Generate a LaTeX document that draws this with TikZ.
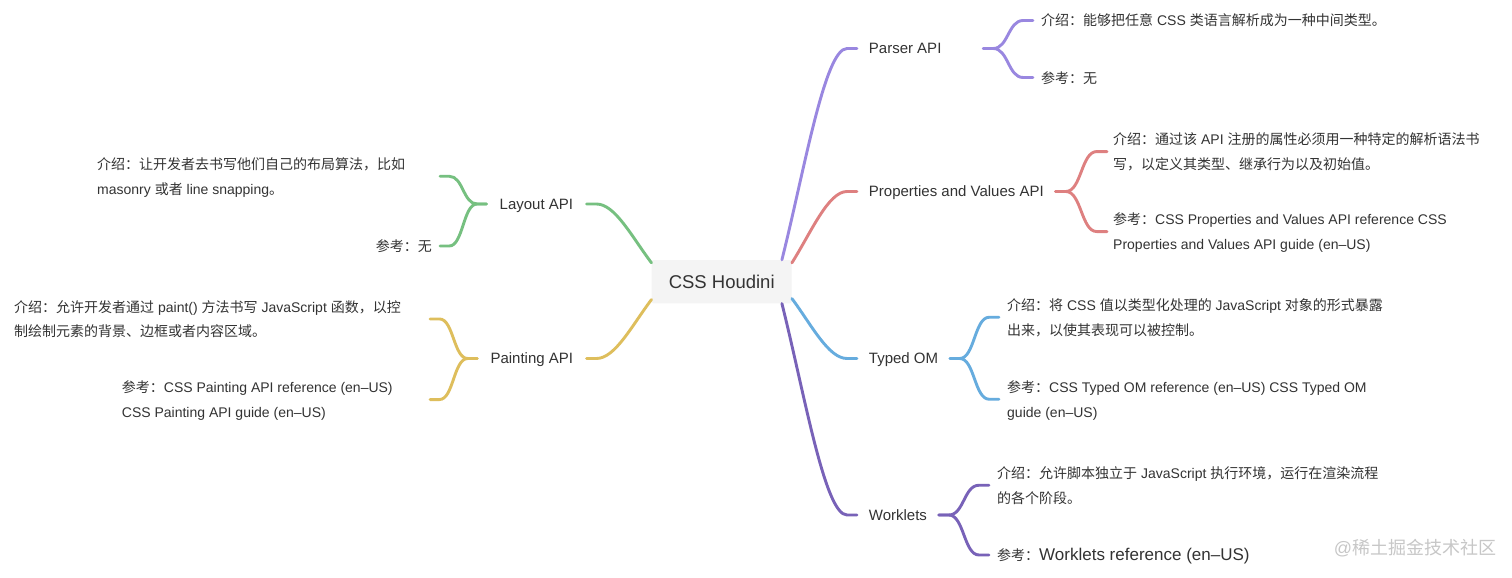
\documentclass[tikz,border=0pt]{standalone}
\usepackage{fontspec}
\setmainfont{Liberation Sans}
\newfontfamily\zhfont{Noto Sans CJK SC}
\newcommand\cj[1]{{\zhfont #1}}
\newcommand\lstrut{\rule{0pt}{13pt}}
\usetikzlibrary{calc}
\definecolor{txt}{HTML}{333333}
\definecolor{rootfill}{HTML}{F4F4F4}
\definecolor{parc}{RGB}{153,135,224}
\definecolor{propc}{RGB}{222,128,128}
\definecolor{typc}{RGB}{102,172,222}
\definecolor{workc}{RGB}{120,98,184}
\definecolor{layc}{RGB}{118,192,128}
\definecolor{paic}{RGB}{222,190,92}
\tikzset{
  rootbox/.style={fill=rootfill, rounded corners=2pt, minimum width=140pt, minimum height=43.3pt,
    inner sep=0pt, text height=13.3pt, text depth=0pt, text=txt, font=\fontsize{18.5}{22}\selectfont},
  rlabel/.style={anchor=west, inner xsep=11.7pt, inner ysep=0pt, text height=10.8pt, text depth=0pt,
    text=txt, font=\fontsize{15}{18}\selectfont},
  llabel/.style={anchor=east, inner xsep=13.2pt, inner ysep=0pt, text height=10.8pt, text depth=0pt,
    text=txt, font=\fontsize{15}{18}\selectfont},
  leaf/.style={anchor=north west, inner sep=0pt, align=left, text=txt, font=\fontsize{14}{24.5}\selectfont},
  link/.style={line width=2.9pt, line cap=round},
  branch/.style={to path={let \p1=(\tikztostart), \p2=(\tikztotarget) in
     .. controls ({\x1+0.35*(\x2-\x1)},{\y1+0.43*(\y2-\y1)}) and ({\x1+0.66*(\x2-\x1)},\y2) .. (\p2)}},
  brace/.style={to path={let \p1=(\tikztostart), \p2=(\tikztotarget), \n1={(\x2-\x1)/5} in
     -- ({\x1+\n1},\y1) .. controls ({\x1+2.5*\n1},\y1) and ({\x1+2.5*\n1},\y2) .. ({\x2-\n1},\y2) -- (\p2)}},
  wm/.style={text=black!22, font=\fontsize{18}{22}\selectfont, inner sep=0pt}
}
\begin{document}
\begin{tikzpicture}[x=1pt,y=-1pt]
\fill[white] (0,0) rectangle (1512,578);
\useasboundingbox (0,0) rectangle (1512,578);

% center
\node[rootbox] (root) at (721.7,281.7) {CSS Houdini};

% branch labels
\node[rlabel] (parser) at (857,48.5) {Parser API};
\node[rlabel] (props) at (857,191.5) {Properties and Values API};
\node[rlabel] (typed) at (857,358.5) {Typed OM};
\node[rlabel] (work) at (857,515) {Worklets};
\node[llabel] (layout) at (586.5,204) {Layout API};
\node[llabel] (paint) at (586.5,358.5) {Painting API};

% leaves (right)
\node[leaf] (pIntro) at (1041,12.8) {\lstrut\cj{介绍：能够把任意} CSS \cj{类语言解析成为一种中间类型。}};
\node[leaf] (pRef) at (1041,69.8) {\lstrut\cj{参考：无}};
\node[leaf] (vIntro) at (1113,131.6) {\lstrut\cj{介绍：通过该} API \cj{注册的属性必须用一种特定的解析语法书}\\\cj{写，以定义其类型、继承行为以及初始值。}};
\node[leaf] (vRef) at (1113,211.6) {\lstrut\cj{参考：}CSS Properties and Values API reference CSS\\Properties and Values API guide (en–US)};
\node[leaf] (tIntro) at (1007,297.3) {\lstrut\cj{介绍：将} CSS \cj{值以类型化处理的} JavaScript \cj{对象的形式暴露}\\\cj{出来，以使其表现可以被控制。}};
\node[leaf] (tRef) at (1007,379.3) {\lstrut\cj{参考：}CSS Typed OM reference (en–US) CSS Typed OM\\guide (en–US)};
\node[leaf] (wIntro) at (997,465.3) {\lstrut\cj{介绍：允许脚本独立于} JavaScript \cj{执行环境，运行在渲染流程}\\\cj{的各个阶段。}};
\node[leaf] (wRef) at (997,547.3) {\lstrut\cj{参考：}{\fontsize{17}{24.5}\selectfont Worklets reference (en–US)}};

% leaves (left)
\node[leaf] (lIntro) at (97,156.3) {\lstrut\cj{介绍：让开发者去书写他们自己的布局算法，比如}\\masonry \cj{或者} line snapping\cj{。}};
\node[leaf, anchor=north east] (lRef) at (432,238.3) {\lstrut\cj{参考：无}};
\node[leaf] (paIntro) at (14,299) {\lstrut\cj{介绍：允许开发者通过} paint() \cj{方法书写} JavaScript \cj{函数，以控}\\\cj{制绘制元素的背景、边框或者内容区域。}};
\node[leaf] (paRef) at (121.7,379.6) {\lstrut\cj{参考：}CSS Painting API reference (en–US)\\CSS Painting API guide (en–US)};

% watermark
\node[wm] (mark) at (1415,548) {@\cj{稀土掘金技术社区}};

% connector end points
\coordinate (rPar) at ([xshift=-10pt]root.north east);
\coordinate (rProp) at ([shift={(0,3)}]root.north east);
\coordinate (rTyp) at ([shift={(0,-5)}]root.south east);
\coordinate (rWork) at ([xshift=-10pt]root.south east);
\coordinate (rLay) at ([shift={(0,3)}]root.north west);
\coordinate (rPai) at ([shift={(0,-4)}]root.south west);
\coordinate (aPar) at ([xshift=-10pt]parser.west);
\coordinate (aProp) at ([xshift=-10pt]props.west);
\coordinate (aTyp) at ([xshift=-10pt]typed.west);
\coordinate (aWork) at ([xshift=-10pt]work.west);
\coordinate (aLay) at ([xshift=10pt]layout.east);
\coordinate (aPai) at ([xshift=10pt]paint.east);

\coordinate (bPar) at ([xshift=30pt]parser.east);
\coordinate (bProp) at (props.east);
\coordinate (bTyp) at (typed.east);
\coordinate (bWork) at (work.east);
\coordinate (bLay) at (layout.west);
\coordinate (bPai) at (paint.west);

\coordinate (tpI) at ([shift={(-8,7.7)}]pIntro.north west);
\coordinate (tpR) at ([shift={(-8,7.7)}]pRef.north west);
\coordinate (tvI) at ([shift={(-6,19.95)}]vIntro.north west);
\coordinate (tvR) at ([shift={(-6,19.95)}]vRef.north west);
\coordinate (ttI) at ([shift={(-8,19.95)}]tIntro.north west);
\coordinate (ttR) at ([shift={(-8,19.95)}]tRef.north west);
\coordinate (twI) at ([shift={(-8,19.95)}]wIntro.north west);
\coordinate (twR) at ([shift={(-8,7.7)}]wRef.north west);
\coordinate (tlI) at ([shift={(343,19.95)}]lIntro.north west);
\coordinate (tlR) at ([shift={(8,7.7)}]lRef.north east);
\coordinate (taI) at ([shift={(416,19.95)}]paIntro.north west);
\coordinate (taR) at ([shift={(308.3,19.95)}]paRef.north west);

% root connectors
\draw[link, parc] (rPar) to[branch] (aPar) -- (parser.west);
\draw[link, propc] (rProp) to[branch] (aProp) -- (props.west);
\draw[link, typc] (rTyp) to[branch] (aTyp) -- (typed.west);
\draw[link, workc] (rWork) to[branch] (aWork) -- (work.west);
\draw[link, layc] (rLay) to[branch] (aLay) -- (layout.east);
\draw[link, paic] (rPai) to[branch] (aPai) -- (paint.east);

% braces
\draw[link, parc] (bPar) to[brace] (tpI);
\draw[link, parc] (bPar) to[brace] (tpR);
\draw[link, propc] (bProp) to[brace] (tvI);
\draw[link, propc] (bProp) to[brace] (tvR);
\draw[link, typc] (bTyp) to[brace] (ttI);
\draw[link, typc] (bTyp) to[brace] (ttR);
\draw[link, workc] (bWork) to[brace] (twI);
\draw[link, workc] (bWork) to[brace] (twR);
\draw[link, layc] (bLay) to[brace] (tlI);
\draw[link, layc] (bLay) to[brace] (tlR);
\draw[link, paic] (bPai) to[brace] (taI);
\draw[link, paic] (bPai) to[brace] (taR);
\end{tikzpicture}
\end{document}
